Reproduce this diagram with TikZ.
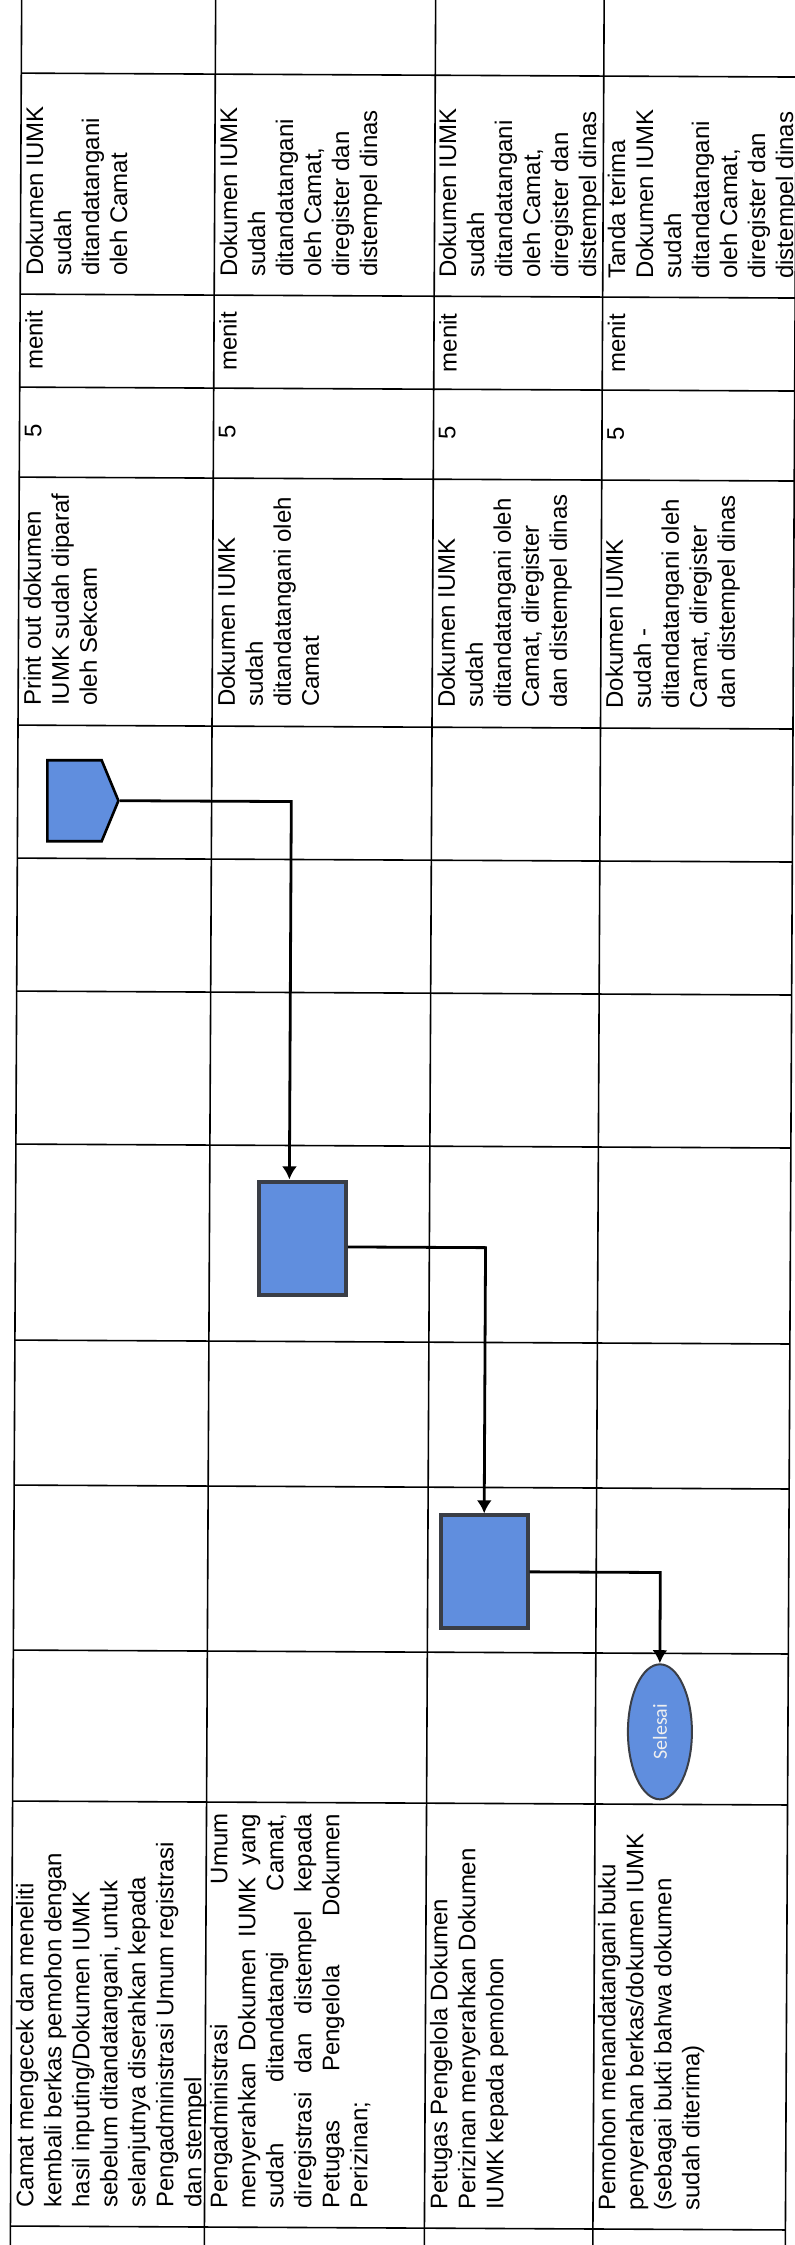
\documentclass[tikz,border=0pt]{standalone}
\usepackage{fontspec}
\setmainfont{Liberation Sans}
\newfontfamily\selesaifont{Carlito}
\usetikzlibrary{arrows.meta,shapes.geometric,shapes.symbols}
\definecolor{flowblue}{RGB}{96,142,222}
\definecolor{flowedge}{RGB}{58,62,70}

\begin{document}
\begin{tikzpicture}[x=0.5pt, y=-0.5pt,
    every node/.style={font=\fontsize{12}{14}\selectfont},
    celltext/.style={rotate=90, anchor=north west, align=left, inner xsep=3pt, inner ysep=1pt},
    cellmid/.style={rotate=90, anchor=north, inner xsep=3pt, inner ysep=1pt},
    gridline/.style={line width=0.8pt},
    flow/.style={line width=1.4pt},
    proc/.style={draw=flowedge, line width=2pt, fill=flowblue, minimum width=43.5pt, minimum height=56.5pt, inner sep=0pt}]
    \useasboundingbox (0,0) rectangle (795,2245);

    \begin{scope}[rotate around={-0.29:(397.5,1122.5)}]
    \foreach \x in {16,210,430,598.5,791}
        \draw[gridline] (\x,-10) -- (\x,2255);
    \foreach \y in {75,296,389,479,727,860,993,1146,1342,1487,1652,1803,2228}
        \draw[gridline] (16,\y) -- (791,\y);

    \node[celltext] (camatHasil) at (19,284) {Dokumen IUMK\\sudah\\ditandatangani\\oleh Camat};
    \node[celltext] (adminHasil) at (213,284) {Dokumen IUMK\\sudah\\ditandatangani\\oleh Camat,\\diregister dan\\distempel dinas};
    \node[celltext] (petugasHasil) at (432,284) {Dokumen IUMK\\sudah\\ditandatangani\\oleh Camat,\\diregister dan\\distempel dinas};
    \node[celltext] (pemohonHasil) at (601,284) {Tanda terima\\Dokumen IUMK\\sudah\\ditandatangani\\oleh Camat,\\diregister dan\\distempel dinas};

    \foreach \x/\r in {16/camat,210/admin,430/petugas,598.5/pemohon} {
        \node[cellmid] (\r Menit) at (\x+3,342.5) {menit};
        \node[cellmid] (\r Waktu) at (\x+3,433) {5};
    }

    \node[celltext] (camatSyarat) at (19,714) {Print out dokumen\\IUMK sudah diparaf\\oleh Sekcam};
    \node[celltext] (adminSyarat) at (213,714) {Dokumen IUMK\\sudah\\ditandatangani oleh\\Camat};
    \node[celltext] (petugasSyarat) at (433,714) {Dokumen IUMK\\sudah\\ditandatangani oleh\\Camat, diregister\\dan distempel dinas};
    \node[celltext] (pemohonSyarat) at (601,714) {Dokumen IUMK\\sudah -\\ditandatangani oleh\\Camat, diregister\\dan distempel dinas};

    \node[celltext] (camatKegiatan) at (19,2216) {Camat mengecek dan meneliti\\kembali berkas pemohon dengan\\hasil inputing/Dokumen IUMK\\sebelum ditandatangani, untuk\\selanjutnya diserahkan kepada\\Pengadministrasi Umum registrasi\\dan stempel};
    \node[celltext, text width=197.5pt] (adminKegiatan) at (213,2216) {Pengadministrasi\hfill Umum\\menyerahkan\hfill Dokumen\hfill IUMK\hfill yang\\sudah\hfill ditandatangi\hfill Camat,\\diregistrasi\hfill dan\hfill distempel\hfill kepada\\Petugas\hfill Pengelola\hfill Dokumen\\Perizinan;};
    \node[celltext] (petugasKegiatan) at (433,2216) {Petugas Pengelola Dokumen\\Perizinan menyerahkan Dokumen\\IUMK kepada pemohon};
    \node[celltext] (pemohonKegiatan) at (601,2216) {Pemohon menandatangani buku\\penyerahan berkas/dokumen IUMK\\(sebagai bukti bahwa dokumen\\sudah diterima)};

    \node[signal, signal to=east, signal pointer angle=135, draw=black, line width=1.3pt, fill=flowblue, minimum width=35.5pt, minimum height=40.5pt, inner sep=0pt, anchor=west] (konektor) at (44.5,802.5) {};
    \node[proc] (tandaCamat) at (303,1238.5) {};
    \node[proc] (serahAdmin) at (486.5,1571.5) {};
    \node[ellipse, rotate=90, draw=flowedge, line width=1pt, fill=flowblue, minimum width=67.5pt, minimum height=32pt, inner sep=0pt, text=white!88!gray, font=\selesaifont\fontsize{10}{12}\selectfont] (selesai) at (663,1730.5) {Selesai};

    \draw[flow, -{Latex[length=6.5pt, width=7.5pt]}] (konektor.east) -| ([xshift=-6.5pt]tandaCamat.north);
    \draw[flow, -{Latex[length=6.5pt, width=7.5pt]}] ([yshift=-4.5pt]tandaCamat.east) -| (serahAdmin.north);
    \draw[flow, -{Latex[length=6.5pt, width=7.5pt]}] (serahAdmin.east) -| (selesai.east);
    \end{scope}
\end{tikzpicture}
\end{document}
